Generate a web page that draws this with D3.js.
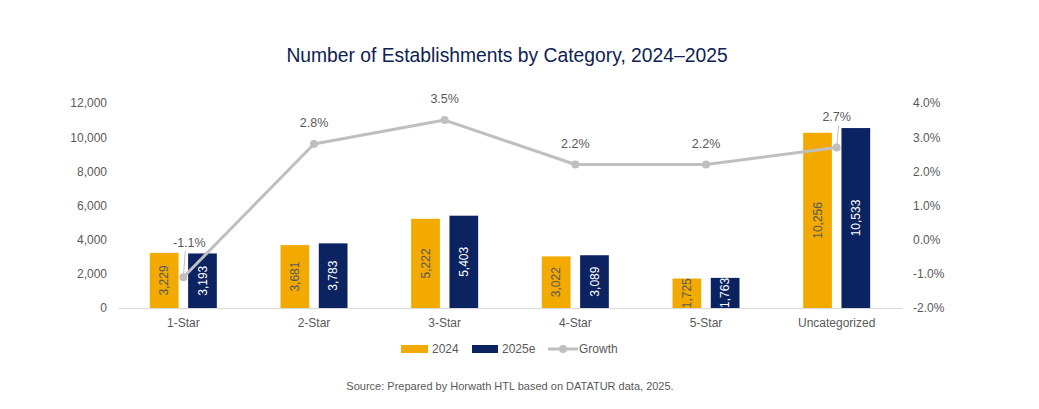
<!DOCTYPE html>
<html>
<head>
<meta charset="utf-8">
<script src="https://cdn.jsdelivr.net/npm/d3@7"></script>
<style>
  body { margin: 0; background: #fff; }
  svg text { font-family: "Liberation Sans", Arial, sans-serif; }
</style>
</head>
<body>
<div id="chart"></div>
<script>
// data
var categories = ["1-Star", "2-Star", "3-Star", "4-Star", "5-Star", "Uncategorized"];
var values2024 = [3229, 3681, 5222, 3022, 1725, 10256];
var values2025 = [3193, 3783, 5403, 3089, 1763, 10533];
var growth = [-1.1, 2.8, 3.5, 2.2, 2.2, 2.7];
var leftTicks = [0, 2000, 4000, 6000, 8000, 10000, 12000];
var rightTicks = [-2, -1, 0, 1, 2, 3, 4];
var seriesNames = ["2024", "2025e"];

var svgWidth = 1039;
var svgHeight = 409;
var orange = "#F2A900";
var navy = "#0B2360";
var grey = "#BFBFBF";
var textGrey = "#595959";

// excel style percent, plain hyphen for negatives
var pct = d => d3.format(".1f")(d).replace("\u2212", "-") + "%";

var svg = d3.select("#chart").append("svg")
  .attr("width", svgWidth)
  .attr("height", svgHeight);

// title
svg.append("text")
  .attr("x", 507)
  .attr("y", 62)
  .attr("text-anchor", "middle")
  .attr("fill", "#0D2252")
  .style("font-size", "19.3px")
  .text("Number of Establishments by Category, 2024\u20132025");

var x0 = d3.scaleBand().domain(categories).range([118, 902]).padding(0);
var x1 = d3.scaleBand().domain(seriesNames).range([0, 67]).paddingInner(0.25);
var groupOffset = (x0.bandwidth() - 67) / 2;

var yLeft = d3.scaleLinear().domain([0, 12000]).range([308, 103]);
var yRight = d3.scaleLinear().domain([-2, 4]).range([308, 103]);

// left axis
var leftAxis = d3.axisLeft(yLeft).tickValues(leftTicks).tickSize(0).tickPadding(0)
  .tickFormat(d3.format(","));
svg.append("g")
  .attr("transform", "translate(107,0)")
  .call(leftAxis)
  .call(g => g.select(".domain").remove())
  .selectAll("text")
  .attr("fill", textGrey)
  .style("font-size", "12px");

// right axis
var rightAxis = d3.axisRight(yRight).tickValues(rightTicks).tickSize(0).tickPadding(0)
  .tickFormat(pct);
svg.append("g")
  .attr("transform", "translate(913,0)")
  .call(rightAxis)
  .call(g => g.select(".domain").remove())
  .selectAll("text")
  .attr("fill", textGrey)
  .style("font-size", "12px");

// bottom axis
var bottomAxis = d3.axisBottom(x0).tickSize(0).tickPadding(10);
svg.append("g")
  .attr("transform", "translate(0,308)")
  .call(bottomAxis)
  .call(g => g.select(".domain").attr("stroke", "#D9D9D9"))
  .selectAll("text")
  .attr("fill", textGrey)
  .style("font-size", "12px");

// bars
var rows = categories.map(function (c, i) {
  return { cat: c, vals: [values2024[i], values2025[i]] };
});

var groups = svg.selectAll(".cat").data(rows).enter().append("g")
  .attr("class", "cat")
  .attr("transform", d => "translate(" + (x0(d.cat) + groupOffset) + ",0)");

groups.selectAll("rect")
  .data(d => d.vals.map((v, j) => ({ key: seriesNames[j], value: v })))
  .enter().append("rect")
  .attr("x", d => x1(d.key))
  .attr("y", d => yLeft(d.value))
  .attr("width", x1.bandwidth())
  .attr("height", d => yLeft(0) - yLeft(d.value))
  .attr("fill", d => d.key === "2024" ? orange : navy);

groups.selectAll(".barlabel")
  .data(d => d.vals.map((v, j) => ({ key: seriesNames[j], value: v })))
  .enter().append("text")
  .attr("class", "barlabel")
  .attr("transform", d => {
    var cx = x1(d.key) + x1.bandwidth() / 2;
    var cy = (yLeft(d.value) + yLeft(0)) / 2;
    return "translate(" + cx + "," + cy + ") rotate(-90)";
  })
  .attr("text-anchor", "middle")
  .attr("dy", "0.35em")
  .attr("fill", d => d.key === "2024" ? textGrey : "#fff")
  .style("font-size", "12px")
  .text(d => d3.format(",")(d.value));

// growth line
var cx = d => x0(d) + x0.bandwidth() / 2;
var line = d3.line()
  .x((d, i) => cx(categories[i]))
  .y(d => yRight(d));

svg.append("path")
  .datum(growth)
  .attr("d", line)
  .attr("fill", "none")
  .attr("stroke", grey)
  .attr("stroke-width", 3)
  .attr("stroke-linejoin", "round");

svg.selectAll(".pt").data(growth).enter().append("circle")
  .attr("class", "pt")
  .attr("cx", (d, i) => cx(categories[i]))
  .attr("cy", d => yRight(d))
  .attr("r", 4)
  .attr("fill", grey);

// growth labels, two of them pulled up with a leader line
var labelLift = [30, 17, 17, 17, 17, 26];
var labelShift = [6, 0, 0, 0, 0, 0];
var pts = growth.map((g, i) => ({ g: g, i: i }));

svg.selectAll(".leader").data(pts.filter(p => labelLift[p.i] > 20)).enter()
  .append("line")
  .attr("class", "leader")
  .attr("x1", p => cx(categories[p.i]))
  .attr("x2", p => cx(categories[p.i]) + 2)
  .attr("y1", p => yRight(p.g))
  .attr("y2", p => yRight(p.g) - labelLift[p.i] + 4)
  .attr("stroke", grey)
  .attr("stroke-width", 1);

svg.selectAll(".glabel").data(pts).enter().append("text")
  .attr("class", "glabel")
  .attr("x", p => cx(categories[p.i]) + labelShift[p.i])
  .attr("y", p => yRight(p.g) - labelLift[p.i])
  .attr("text-anchor", "middle")
  .attr("fill", textGrey)
  .style("font-size", "12.5px")
  .text(p => pct(p.g));

// legend
var legend = svg.append("g").attr("transform", "translate(0,349)");
legend.append("rect").attr("x", 401).attr("y", -4).attr("width", 27).attr("height", 8).attr("fill", orange);
legend.append("text").attr("x", 432).attr("y", 0).attr("dy", "0.35em").attr("fill", textGrey)
  .style("font-size", "12px").text("2024");
legend.append("rect").attr("x", 472).attr("y", -4).attr("width", 26).attr("height", 8).attr("fill", navy);
legend.append("text").attr("x", 502).attr("y", 0).attr("dy", "0.35em").attr("fill", textGrey)
  .style("font-size", "12px").text("2025e");
legend.append("line").attr("x1", 548).attr("x2", 578).attr("y1", 0).attr("y2", 0)
  .attr("stroke", grey).attr("stroke-width", 3);
legend.append("circle").attr("cx", 563).attr("cy", 0).attr("r", 4).attr("fill", grey);
legend.append("text").attr("x", 579).attr("y", 0).attr("dy", "0.35em").attr("fill", textGrey)
  .style("font-size", "12px").text("Growth");

// source
svg.append("text")
  .attr("x", 510)
  .attr("y", 390)
  .attr("text-anchor", "middle")
  .attr("fill", textGrey)
  .style("font-size", "11px")
  .text("Source: Prepared by Horwath HTL based on DATATUR data, 2025.");
</script>
</body>
</html>
